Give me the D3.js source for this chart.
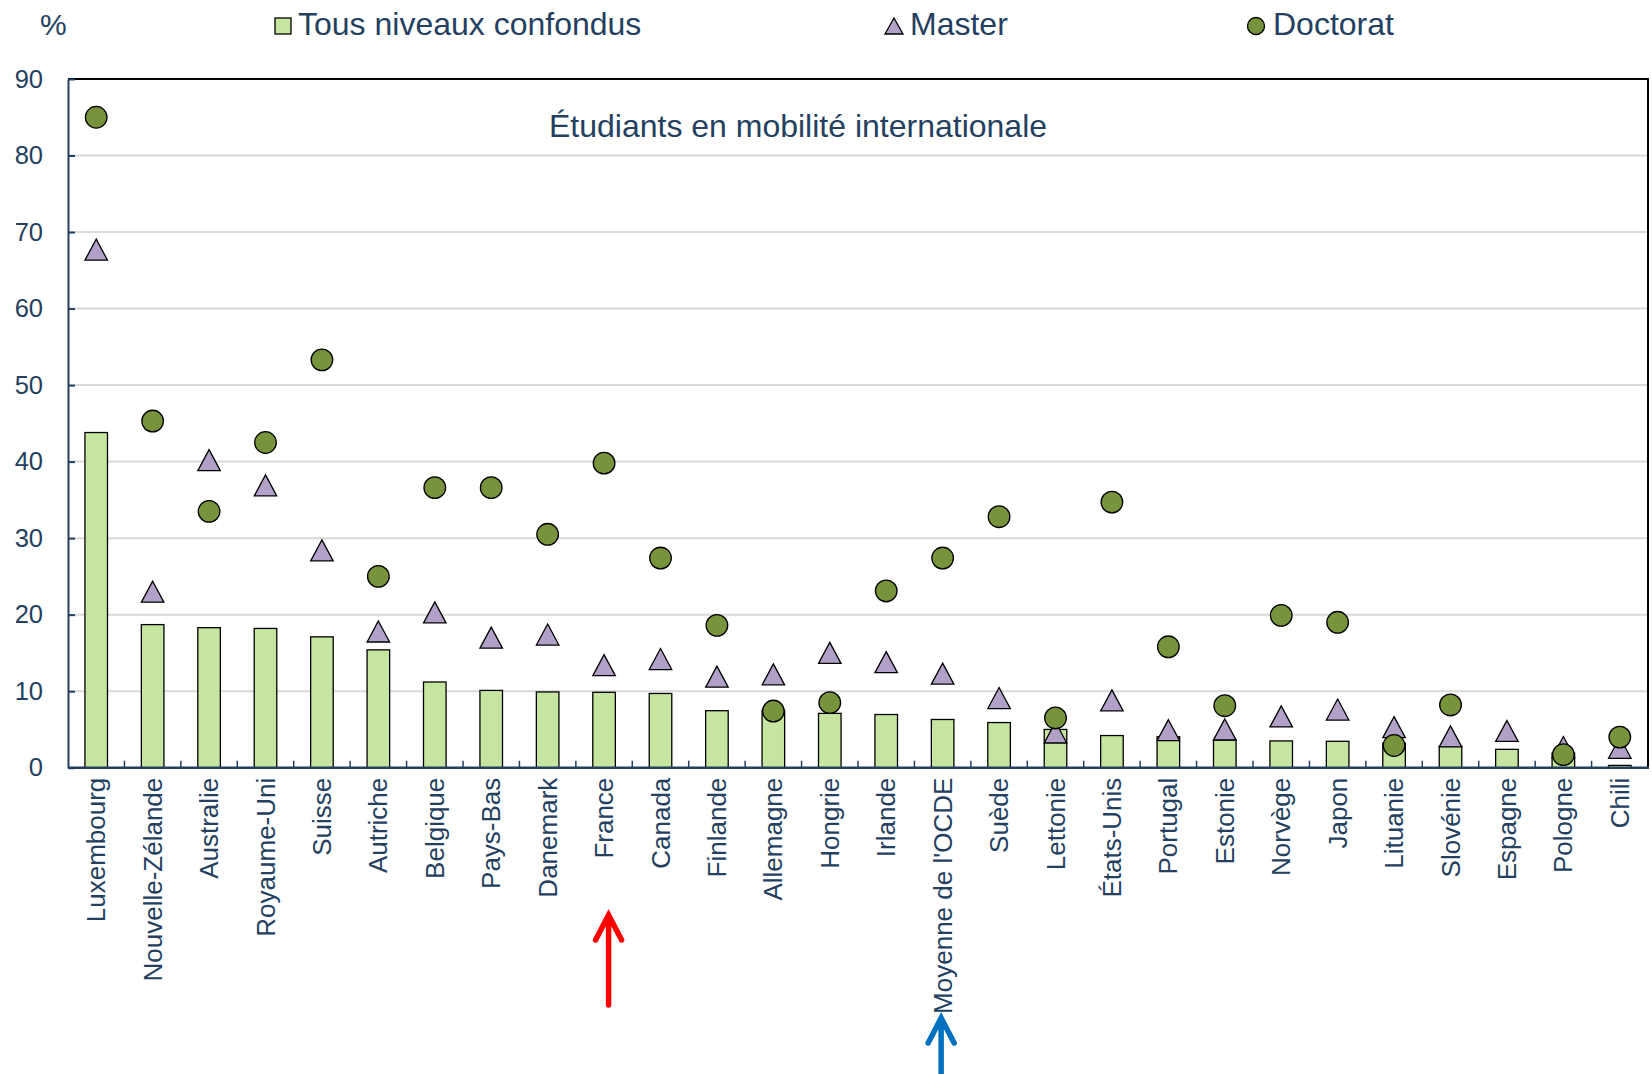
<!doctype html>
<html>
<head>
<meta charset="utf-8" />
<script src="https://cdn.jsdelivr.net/npm/d3@7"></script>
<style>
  body { margin: 0; background: #fff; }
  svg text { font-family: "Liberation Sans", Arial, sans-serif; fill: #243f60; }
</style>
</head>
<body>
<svg id="chart" width="1652" height="1074"></svg>
<script>
// data
var categories = ["Luxembourg", "Nouvelle-Zélande", "Australie", "Royaume-Uni", "Suisse", "Autriche",
  "Belgique", "Pays-Bas", "Danemark", "France", "Canada", "Finlande", "Allemagne", "Hongrie", "Irlande",
  "Moyenne de l'OCDE", "Suède", "Lettonie", "États-Unis", "Portugal", "Estonie", "Norvège", "Japon",
  "Lituanie", "Slovénie", "Espagne", "Pologne", "Chili"];
var tous = [43.8, 18.7, 18.3, 18.2, 17.1, 15.4, 11.2, 10.1, 9.9, 9.85, 9.7, 7.45, 7.5, 7.1, 6.95, 6.3,
  5.9, 5.0, 4.2, 4.05, 3.6, 3.5, 3.45, 3.2, 2.8, 2.4, 1.9, 0.3];
var master = [67.7, 23.0, 40.2, 36.9, 28.4, 17.8, 20.3, 17.0, 17.4, 13.4, 14.2, 11.9, 12.2, 15.0, 13.8,
  12.3, 9.1, 4.6, 8.8, 4.9, 5.0, 6.7, 7.6, 5.3, 4.1, 4.8, 2.7, 2.6];
var doctorat = [85.0, 45.3, 33.5, 42.5, 53.3, 25.0, 36.6, 36.6, 30.5, 39.8, 27.4, 18.6, 7.4, 8.5, 23.1,
  27.4, 32.8, 6.5, 34.7, 15.8, 8.1, 19.9, 19.0, 2.9, 8.2, null, 1.7, 4.0];
var yTicks = [0, 10, 20, 30, 40, 50, 60, 70, 80, 90];
var legendLabels = ["Tous niveaux confondus", "Master", "Doctorat"];
var panelTitle = "Étudiants en mobilité internationale";

var navy = "#243f60";
var svg = d3.select("#chart");
var plotLeft = 68, plotRight = 1648, plotTop = 79, plotBottom = 767.7;

var x = d3.scaleBand().domain(categories).range([plotLeft, plotRight]).paddingInner(0.6).paddingOuter(0.3);
var y = d3.scaleLinear().domain([0, 90]).range([plotBottom, plotTop]);
var cx = function (i) { return x(categories[i]) + x.bandwidth() / 2; };

// gridlines
svg.append("g").selectAll("line").data(yTicks.slice(1, -1)).join("line")
  .attr("x1", plotLeft).attr("x2", plotRight)
  .attr("y1", d => y(d)).attr("y2", d => y(d))
  .attr("stroke", "#d9d9d9").attr("stroke-width", 2);

// top and right border
svg.append("path")
  .attr("d", "M" + plotLeft + "," + plotTop + "H" + plotRight + "V" + plotBottom)
  .attr("fill", "none").attr("stroke", "#000").attr("stroke-width", 2);

// bars
svg.append("g").selectAll("rect").data(tous).join("rect")
  .attr("x", (d, i) => x(categories[i]))
  .attr("y", d => y(d))
  .attr("width", x.bandwidth())
  .attr("height", d => plotBottom - y(d))
  .attr("fill", "#c6e5a0").attr("stroke", "#000").attr("stroke-width", 1.3);

// master triangles
var tri = "M0,-10.5L11.25,10.5L-11.25,10.5Z";
svg.append("g").selectAll("path").data(master).join("path")
  .attr("d", tri)
  .attr("transform", (d, i) => "translate(" + cx(i) + "," + y(d) + ")")
  .attr("fill", "#b1a0c7").attr("stroke", "#000").attr("stroke-width", 1.3);

// doctorat circles
svg.append("g").selectAll("circle")
  .data(doctorat.map((d, i) => ({ v: d, i: i })).filter(d => d.v != null))
  .join("circle")
  .attr("cx", d => cx(d.i)).attr("cy", d => y(d.v)).attr("r", 10.8)
  .attr("fill", "#77933c").attr("stroke", "#000").attr("stroke-width", 1.3);

// y axis
var yAxis = svg.append("g").attr("transform", "translate(" + plotLeft + ",0)")
  .call(d3.axisLeft(y).tickValues(yTicks).tickSize(-7).tickPadding(25).tickSizeOuter(0));
yAxis.select(".domain").attr("stroke", navy).attr("stroke-width", 2);
yAxis.selectAll(".tick line").attr("stroke", navy).attr("stroke-width", 2);
yAxis.selectAll(".tick text").attr("font-size", 25.5).style("fill", navy)
  .style("font-family", "'Liberation Sans', Arial, sans-serif");

// x axis line and ticks at category boundaries
svg.append("line").attr("x1", plotLeft).attr("x2", plotRight + 1).attr("y1", plotBottom).attr("y2", plotBottom)
  .attr("stroke", navy).attr("stroke-width", 2.5);
svg.append("g").selectAll("line").data(categories.slice(1)).join("line")
  .attr("x1", d => x(d) - x.step() * 0.3).attr("x2", d => x(d) - x.step() * 0.3)
  .attr("y1", plotBottom).attr("y2", plotBottom - 7)
  .attr("stroke", navy).attr("stroke-width", 1.5);

// category labels
svg.append("g").selectAll("text").data(categories).join("text")
  .attr("transform", (d, i) => "translate(" + cx(i) + "," + (plotBottom + 10) + ") rotate(-90)")
  .attr("text-anchor", "end").attr("dy", "0.35em")
  .attr("font-size", 26)
  .text(d => d);

// unit and panel title
svg.append("text").attr("x", 40).attr("y", 35).attr("font-size", 30).text("%");
svg.append("text").attr("x", 798).attr("y", 137).attr("text-anchor", "middle")
  .attr("font-size", 32).text(panelTitle);

// legend
var leg = svg.append("g");
leg.append("rect").attr("x", 275).attr("y", 18).attr("width", 16).attr("height", 16)
  .attr("fill", "#c6e5a0").attr("stroke", "#000").attr("stroke-width", 1.3);
leg.append("path").attr("d", "M0,-8L9,8L-9,8Z").attr("transform", "translate(894,26)")
  .attr("fill", "#b1a0c7").attr("stroke", "#000").attr("stroke-width", 1.3);
leg.append("circle").attr("cx", 1256).attr("cy", 26).attr("r", 8.5)
  .attr("fill", "#77933c").attr("stroke", "#000").attr("stroke-width", 1.3);
leg.selectAll("text").data(legendLabels).join("text")
  .attr("x", (d, i) => [298, 910, 1273][i]).attr("y", 35)
  .attr("font-size", 32).text(d => d);

// highlight arrows under France and the OECD average
function arrow(xPos, tipY, endY, color) {
  svg.append("path")
    .attr("d", "M" + xPos + "," + endY + "V" + (tipY + 2) +
      "M" + (xPos - 13) + "," + (tipY + 25) + "L" + xPos + "," + tipY + "L" + (xPos + 13) + "," + (tipY + 25))
    .attr("fill", "none").attr("stroke", color).attr("stroke-width", 5.5)
    .attr("stroke-linecap", "round").attr("stroke-linejoin", "miter");
}
arrow(cx(categories.indexOf("France")) + 4.5, 915, 1005, "#ff0000");
arrow(cx(categories.indexOf("Moyenne de l'OCDE")) - 1.5, 1018, 1080, "#0070c0");
</script>
</body>
</html>
